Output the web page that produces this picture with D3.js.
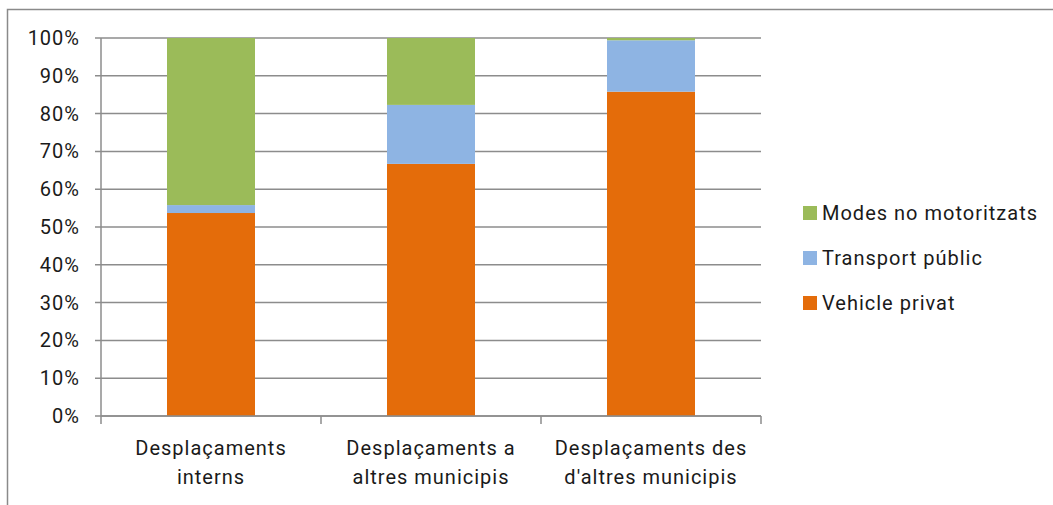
<!DOCTYPE html>
<html>
<head>
<meta charset="utf-8">
<script src="https://cdn.jsdelivr.net/npm/d3@7"></script>
<style>
  body { margin: 0; background: #fff; }
  text { font-family: Roboto, "DejaVu Sans", sans-serif; fill: #1a1a1a; letter-spacing: 1px; }
</style>
</head>
<body>
<svg id="chart" width="1053" height="505"></svg>
<script>
// data *************************************************************
var categories = [["Desplaçaments", "interns"], ["Desplaçaments a", "altres municipis"], ["Desplaçaments des", "d'altres municipis"]]
var seriesNames = ["Vehicle privat", "Transport públic", "Modes no motoritzats"]
var seriesColors = ["#e46c0a", "#8eb4e3", "#9bbb59"]
var vehiclePrivat = [53.7, 66.7, 85.8]
var transportPublic = [2.1, 15.6, 13.6]
var modesNoMotor = [44.2, 17.7, 0.6]
var yTicks = [0, 10, 20, 30, 40, 50, 60, 70, 80, 90, 100]

var fontSize = "20px"

var svg = d3.select("#chart")

// chart frame (runs off the picture on right and bottom)
svg.append("rect").attr("x", 7.5).attr("y", 9.5).attr("width", 1100).attr("height", 600)
    .style("fill", "none").style("stroke", "#8a8a8a").style("stroke-width", 1.5)

var x = d3.scaleBand().domain([0, 1, 2]).range([101, 761]).paddingInner(0.6).paddingOuter(0.3)
var xOuter = d3.scaleBand().domain([0, 1, 2]).range([101, 761])
var y = d3.scaleLinear().domain([0, 100]).range([416, 38])

// gridlines + y ticks
svg.append("g").selectAll("line").data(yTicks).enter().append("line")
    .attr("x1", 95).attr("x2", 761)
    .attr("y1", function(d){ return y(d) }).attr("y2", function(d){ return y(d) })
    .style("stroke", "#8c8c8c").style("stroke-width", 1.5)

svg.append("g").selectAll("text").data(yTicks).enter().append("text")
    .attr("x", 80).attr("y", function(d){ return y(d) })
    .attr("text-anchor", "end").attr("dominant-baseline", "central")
    .style("font-size", fontSize)
    .text(function(d){ return d + "%" })

// y axis line
svg.append("line").attr("x1", 101).attr("x2", 101).attr("y1", 38).attr("y2", 416)
    .style("stroke", "#8c8c8c").style("stroke-width", 1.5)

// stacked bars
var rows = categories.map(function(c, i){
    return { i: i, v: vehiclePrivat[i], t: transportPublic[i], m: modesNoMotor[i] }
})
var stack = d3.stack().keys(["v", "t", "m"])(rows)

svg.append("g").selectAll("g").data(stack).enter().append("g")
    .style("fill", function(d, k){ return seriesColors[k] })
    .selectAll("rect").data(function(d){ return d }).enter().append("rect")
    .attr("x", function(d){ return x(d.data.i) })
    .attr("width", x.bandwidth())
    .attr("y", function(d){ return y(d[1]) })
    .attr("height", function(d){ return y(d[0]) - y(d[1]) })

// x axis line + ticks
svg.append("line").attr("x1", 101).attr("x2", 761).attr("y1", 416).attr("y2", 416)
    .style("stroke", "#8c8c8c").style("stroke-width", 1.5)
var xTicks = [0, 1, 2, 3]
svg.append("g").selectAll("line").data(xTicks).enter().append("line")
    .attr("x1", function(d){ return 101 + d * xOuter.bandwidth() })
    .attr("x2", function(d){ return 101 + d * xOuter.bandwidth() })
    .attr("y1", 416).attr("y2", 424)
    .style("stroke", "#8c8c8c").style("stroke-width", 1.5)

// category labels
var catLabels = svg.append("g").selectAll("text").data(categories).enter().append("text")
    .attr("x", function(d, i){ return xOuter(i) + xOuter.bandwidth() / 2 })
    .attr("y", 448).attr("text-anchor", "middle").attr("dominant-baseline", "central")
    .style("font-size", fontSize)
catLabels.append("tspan").attr("x", function(d, i){ return xOuter(i) + xOuter.bandwidth() / 2 })
    .text(function(d){ return d[0] })
catLabels.append("tspan").attr("x", function(d, i){ return xOuter(i) + xOuter.bandwidth() / 2 })
    .attr("dy", 29).text(function(d){ return d[1] })

// Handmade legend
var legOrder = [2, 1, 0]
var yLegend_Pos = 213
for (var k = 0; k < legOrder.length; k++) {
    var s = legOrder[k]
    svg.append("rect").attr("x", 803).attr("y", yLegend_Pos - 7).attr("width", 14).attr("height", 14)
        .style("fill", seriesColors[s])
    svg.append("text").attr("x", 822).attr("y", yLegend_Pos).attr("dominant-baseline", "central")
        .style("font-size", fontSize).text(seriesNames[s])
    yLegend_Pos = yLegend_Pos + 45
}
</script>
</body>
</html>
